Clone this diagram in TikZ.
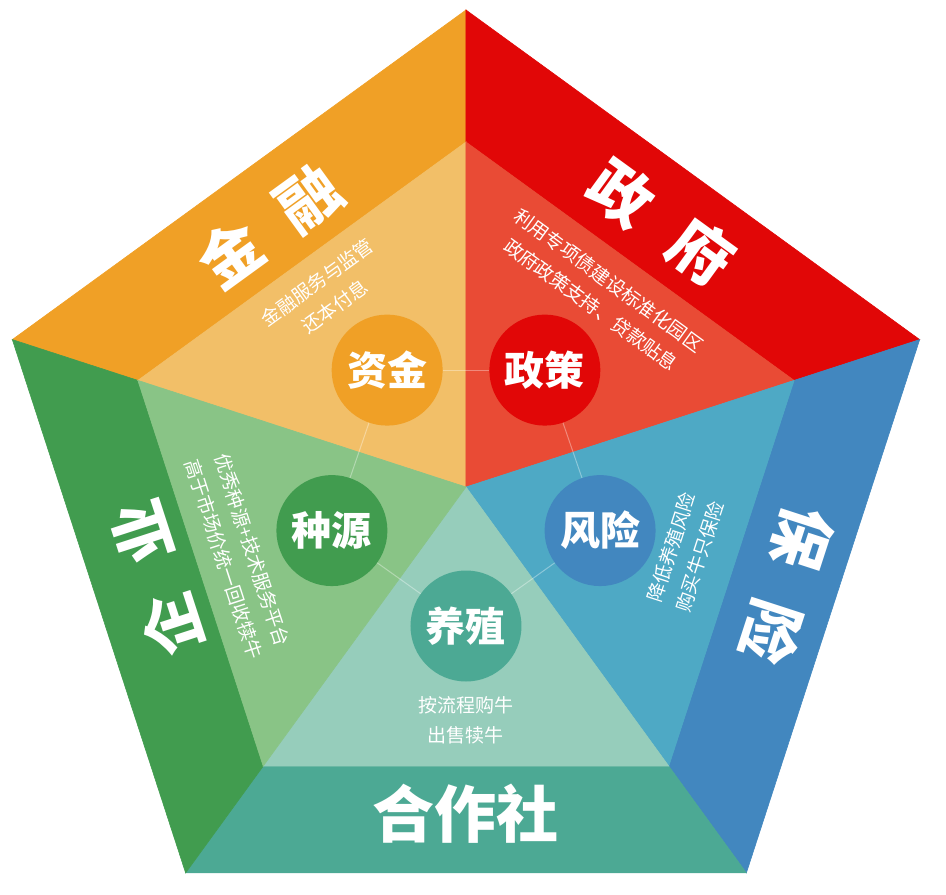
\documentclass[tikz,border=0pt]{standalone}
\usepackage{fontspec}
\setmainfont{Noto Sans CJK SC}
\usepackage{tikz}
\usetikzlibrary{positioning}
\definecolor{orange}{HTML}{F0A026}
\definecolor{lightorange}{HTML}{F2BF68}
\definecolor{red}{HTML}{E10707}
\definecolor{lightred}{HTML}{E94B35}
\definecolor{blue}{HTML}{4287BF}
\definecolor{lightblue}{HTML}{4EA9C5}
\definecolor{teal}{HTML}{4CA994}
\definecolor{lightteal}{HTML}{96CDBB}
\definecolor{green}{HTML}{419C4F}
\definecolor{lightgreen}{HTML}{89C486}
\tikzset{%
  band/.style={fill=#1, draw=#1, line width=0.6pt},% outer trapezoid / inner triangle
  title/.style={text=white, font=\fontsize{62}{62}\selectfont\bfseries},% big sector name
  note/.style={text=white, align=center, font=\fontsize{19}{30}\selectfont},% small description
  hub/.style={circle, fill=#1, minimum size=111pt, inner sep=0pt, text=white,
    font=\fontsize{40}{40}\selectfont\bfseries},% inner circles
  link/.style={draw=white, draw opacity=0.35, line width=1pt}% faint connectors
}
\begin{document}
\begin{tikzpicture}[x=1pt,y=1pt]
\useasboundingbox (-466,-408) rectangle (480,487);
\coordinate (c) at (0,0);
\coordinate (o1) at (90:477);
\coordinate (o2) at (162:477);
\coordinate (o3) at (234:477);
\coordinate (o4) at (306:477);
\coordinate (o5) at (18:477);
\coordinate (i1) at (90:345);
\coordinate (i2) at (162:345);
\coordinate (i3) at (234:345);
\coordinate (i4) at (306:345);
\coordinate (i5) at (18:345);

% outer bands
\filldraw[band=orange] (o1) -- (o2) -- (i2) -- (i1) -- cycle;
\filldraw[band=red] (o5) -- (o1) -- (i1) -- (i5) -- cycle;
\filldraw[band=blue] (o4) -- (o5) -- (i5) -- (i4) -- cycle;
\filldraw[band=teal] (o3) -- (o4) -- (i4) -- (i3) -- cycle;
\filldraw[band=green] (o2) -- (o3) -- (i3) -- (i2) -- cycle;

% inner triangles
\filldraw[band=lightorange] (c) -- (i1) -- (i2) -- cycle;
\filldraw[band=lightred] (c) -- (i5) -- (i1) -- cycle;
\filldraw[band=lightblue] (c) -- (i4) -- (i5) -- cycle;
\filldraw[band=lightteal] (c) -- (i3) -- (i4) -- cycle;
\filldraw[band=lightgreen] (c) -- (i2) -- (i3) -- cycle;

\node[title, rotate=36] (jinrong) at (127:327) {金\hspace{0.55em}融};
\node[title, rotate=-36] (zhengfu) at (53.5:329) {政\hspace{0.6em}府};
\node[title, rotate=-108] (baoxian) at (343:336) {保\hspace{0.6em}险};
\node[title] (hezuo) at (270:327) {合作社};
\node[title, rotate=108] (qiye) at (196.5:323) {企\hspace{0.55em}业};

\node[note, rotate=36] (jinrong note) at (126:238) {金融服务与监管\\还本付息};
\node[note, rotate=-36] (zhengfu note) at (55.5:236) {利用专项债建设标准化园区\\政府政策支持、贷款贴息};
\node[note, rotate=72] (baoxian note) at (343.5:229) {降低养殖风险\\购买牛只保险};
\node[note] (hezuo note) at (270:233) {按流程购牛\\出售犊牛};
\node[note, rotate=-72] (qiye note) at (196.5:238) {优秀种源+技术服务平台\\高于市场价统一回收犊牛};

\node[hub=orange] (zijin) at (124:141) {资金};
\node[hub=red] (zhengce) at (56:141) {政策};
\node[hub=blue] (fengxian) at (342:141) {风险};
\node[hub=teal] (yangzhi) at (270:139) {养殖};
\node[hub=green] (zhongyuan) at (198:141) {种源};

\draw[link] (zijin) -- (zhengce);
\draw[link] (zhengce) -- (fengxian);
\draw[link] (fengxian) -- (yangzhi);
\draw[link] (yangzhi) -- (zhongyuan);
\draw[link] (zhongyuan) -- (zijin);
\end{tikzpicture}
\end{document}
